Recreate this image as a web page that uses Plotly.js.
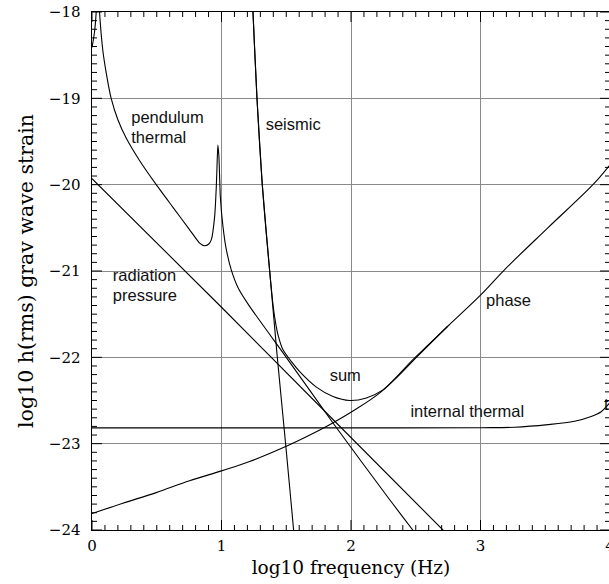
<!DOCTYPE html>
<html><head><meta charset="utf-8">
<script src="https://cdn.plot.ly/plotly-3.0.1.min.js"></script>
<style>html,body{margin:0;padding:0;overflow:hidden;background:#fff}#chart{width:620px;height:584px}</style>
</head><body><div id="chart"></div>
<script>
// log10 frequency (Hz) vs log10 h(rms) strain
const pendulumX = [0, 0.006, 0.019, 0.032, 0.045, 0.058, 0.083, 0.11, 0.148, 0.2, 0.264, 0.367, 0.496, 0.624, 0.753, 0.831, 0.869, 0.9, 0.921, 0.947, 0.96, 0.967, 0.972, 0.98, 0.991, 1.011, 1.037, 1.076, 1.13, 1.217, 1.5, 1.861, 2.299, 2.477, 2.55];
const pendulumY = [-18.41, -18.36, -18.24, -18.01, -17.6, -18.0, -18.437, -18.707, -19.0, -19.248, -19.46, -19.72, -20.0, -20.26, -20.52, -20.677, -20.708, -20.69, -20.64, -20.37, -20.02, -19.71, -19.54, -19.67, -20.14, -20.48, -20.75, -20.99, -21.2, -21.41, -22.0, -22.76, -23.65, -24.0, -24.15];

const seismicX = [1.225, 1.243, 1.274, 1.315, 1.372, 1.431, 1.495, 1.557, 1.57];
const seismicY = [-17.4, -18.0, -19.0, -20.0, -21.0, -22.0, -23.0, -24.0, -24.2];

const radiationX = [0, 0.715, 1.0, 1.861, 2.479, 2.709, 2.75];
const radiationY = [-19.93, -20.99, -21.42, -22.72, -23.65, -24.0, -24.06];

const phaseX = [0, 0.238, 0.496, 0.753, 1.0, 1.217, 1.5, 1.655, 1.835, 1.99, 2.232, 2.49, 2.747, 3.0, 3.185, 3.52, 3.868, 4.0];
const phaseY = [-23.81, -23.69, -23.567, -23.43, -23.315, -23.207, -23.03, -22.92, -22.78, -22.645, -22.40, -22.01, -21.64, -21.28, -20.986, -20.50, -20.0, -19.77];

const sumX = [1.225, 1.243, 1.274, 1.315, 1.372, 1.40, 1.42, 1.44, 1.474, 1.54, 1.604, 1.733, 1.861, 1.99, 2.119, 2.247, 2.376, 2.505, 2.747];
const sumY = [-17.4, -18.0, -19.0, -20.0, -21.0, -21.42, -21.62, -21.76, -21.91, -22.05, -22.165, -22.345, -22.454, -22.50, -22.47, -22.377, -22.20, -22.0, -21.64];

const internalX = [0, 1, 2, 3, 3.263, 3.52, 3.726, 3.855, 3.932, 3.984, 4.0];
const internalY = [-22.817, -22.817, -22.817, -22.815, -22.81, -22.78, -22.74, -22.686, -22.63, -22.55, -22.52];

const xTickVals = [0, 1, 2, 3, 4];
const yTickVals = [-24, -23, -22, -21, -20, -19, -18];
const minorStep = 0.1;

const labelText = ['pendulum', 'thermal', 'seismic', 'radiation', 'pressure', 'sum', 'phase', 'internal thermal', 't'];
const labelX = [0.303, 0.303, 1.341, 0.161, 0.161, 1.835, 3.043, 2.459, 3.953];
const labelY = [-19.242, -19.467, -19.32, -21.069, -21.298, -22.228, -21.359, -22.649, -22.562];

const series = [
  [pendulumX, pendulumY, 'pendulum thermal', 'spline', 0.5],
  [seismicX, seismicY, 'seismic', 'spline', 0.3],
  [radiationX, radiationY, 'radiation pressure', 'linear', 0],
  [phaseX, phaseY, 'phase', 'spline', 1],
  [sumX, sumY, 'sum', 'spline', 0.8],
  [internalX, internalY, 'internal thermal', 'spline', 1]
];
const serif = 'DejaVu Serif, serif';
const sans = 'Liberation Sans, Arial, sans-serif';

const traces = series.map(s => ({
  type: 'scatter', mode: 'lines', x: s[0], y: s[1], name: s[2],
  line: {color: '#000', width: 1.1, shape: s[3], smoothing: s[4] || 1}, hoverinfo: 'skip', showlegend: false
}));
traces.push({
  type: 'scatter', mode: 'text', x: labelX, y: labelY, text: labelText,
  textposition: 'middle right', cliponaxis: false,
  textfont: {family: sans, size: 16.5, color: '#111'},
  hoverinfo: 'skip', showlegend: false
});

// inward tick marks on all four sides (major every 1, minor every 0.1)
const shapes = [];
const tickLine = {color: '#000', width: 1};
function addXTicks(lo, hi) {
  const n = Math.round((hi - lo) / minorStep);
  for (let i = 0; i <= n; i++) {
    const v = +(lo + i * minorStep).toFixed(4);
    const len = (i % 10 === 0) ? 10 : 5;
    shapes.push({type: 'line', xref: 'x', yref: 'paper', ysizemode: 'pixel', yanchor: 0, x0: v, x1: v, y0: 0, y1: len, line: tickLine, layer: 'above'});
    shapes.push({type: 'line', xref: 'x', yref: 'paper', ysizemode: 'pixel', yanchor: 1, x0: v, x1: v, y0: 0, y1: -len, line: tickLine, layer: 'above'});
  }
}
function addYTicks(lo, hi) {
  const n = Math.round((hi - lo) / minorStep);
  for (let i = 0; i <= n; i++) {
    const v = +(lo + i * minorStep).toFixed(4);
    const len = (i % 10 === 0) ? 10 : 5;
    shapes.push({type: 'line', yref: 'y', xref: 'paper', xsizemode: 'pixel', xanchor: 0, y0: v, y1: v, x0: 0, x1: len, line: tickLine, layer: 'above'});
    shapes.push({type: 'line', yref: 'y', xref: 'paper', xsizemode: 'pixel', xanchor: 1, y0: v, y1: v, x0: 0, x1: -len, line: tickLine, layer: 'above'});
  }
}
addXTicks(xTickVals[0], xTickVals[xTickVals.length - 1]);
addYTicks(yTickVals[0], yTickVals[yTickVals.length - 1]);

const axisCommon = {
  tickmode: 'linear', dtick: 1, ticks: '',
  showline: true, linecolor: '#000', linewidth: 1, mirror: true,
  showgrid: true, gridcolor: '#8a8a8a', gridwidth: 1, zeroline: false,
  tickfont: {family: serif, size: 15, color: '#000'}
};

const layout = {
  width: 620, height: 584,
  margin: {l: 92, r: 10, t: 12, b: 54},
  paper_bgcolor: '#fff', plot_bgcolor: '#fff',
  showlegend: false,
  xaxis: Object.assign({}, axisCommon, {
    range: [0, 4], tick0: xTickVals[0], ticklabelstandoff: 2,
    title: {text: 'log10 frequency (Hz)', font: {family: serif, size: 18.5, color: '#000'}, standoff: 7}
  }),
  yaxis: Object.assign({}, axisCommon, {
    range: [-24, -18], tick0: yTickVals[0], ticksuffix: '\u2002',
    title: {text: 'log10 h(rms) grav wave strain\u00a0\u00a0\u00a0\u00a0\u00a0\u00a0', font: {family: serif, size: 20.5, color: '#000'}, standoff: 9}
  }),
  shapes: shapes
};

Plotly.newPlot('chart', traces, layout, {staticPlot: true, displayModeBar: false});
</script>
</body></html>
